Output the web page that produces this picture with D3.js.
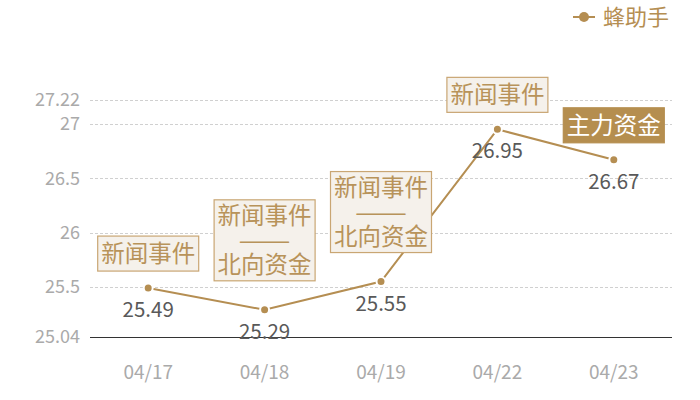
<!DOCTYPE html>
<html>
<head>
<meta charset="utf-8">
<script src="https://cdn.jsdelivr.net/npm/d3@7"></script>
<style>
  body { margin: 0; background: #fff; }
  svg text { font-family: "Noto Sans CJK SC", "Noto Sans", sans-serif; }
</style>
</head>
<body>
<div id="chart"></div>
<script>
// data
const dates = ['04/17', '04/18', '04/19', '04/22', '04/23'];
const prices = [25.49, 25.29, 25.55, 26.95, 26.67];
const yTicks = [25.04, 25.5, 26, 26.5, 27, 27.22];
const notes = [
    ['新闻事件'],
    ['新闻事件', '——', '北向资金'],
    ['新闻事件', '——', '北向资金'],
    ['新闻事件'],
    ['主力资金']
];
const noteFilled = [false, false, false, false, true];
const seriesName = '蜂助手';

const width = 700, height = 400;
const margin = { top: 100, right: 28, bottom: 63, left: 90 };
const gold = '#b58e52';

const svg = d3.select('#chart').append('svg')
    .attr('width', width).attr('height', height);

const x = d3.scaleBand().domain(dates)
    .range([margin.left, width - margin.right]);
const y = d3.scaleLinear().domain([25.04, 27.22])
    .range([height - margin.bottom, margin.top]);

// grid lines
svg.append('g').selectAll('line').data(yTicks.slice(1)).enter().append('line')
    .attr('x1', margin.left).attr('x2', width - margin.right)
    .attr('y1', d => Math.round(y(d)) + 0.5).attr('y2', d => Math.round(y(d)) + 0.5)
    .attr('stroke', '#d0d0d0').attr('stroke-dasharray', '3,2');

// y labels
svg.append('g').selectAll('text').data(yTicks).enter().append('text')
    .attr('x', 80).attr('y', d => y(d)).attr('dy', '0.35em')
    .attr('text-anchor', 'end').attr('font-size', 18).attr('fill', '#aaaaaa')
    .text(d => d);

// x axis line
svg.append('line')
    .attr('x1', margin.left).attr('x2', width - margin.right)
    .attr('y1', Math.round(y(25.04)) + 0.5).attr('y2', Math.round(y(25.04)) + 0.5)
    .attr('stroke', '#333');

// x labels
svg.append('g').selectAll('text').data(dates).enter().append('text')
    .attr('x', d => x(d) + x.bandwidth() / 2).attr('y', 372).attr('dy', '0.35em')
    .attr('text-anchor', 'middle').attr('font-size', 19).attr('fill', '#aaaaaa')
    .text(d => d);

const cx = (d, i) => x(dates[i]) + x.bandwidth() / 2;

// line
const line = d3.line().x((d, i) => cx(d, i)).y(d => y(d));
svg.append('path').datum(prices)
    .attr('d', line).attr('fill', 'none')
    .attr('stroke', gold).attr('stroke-width', 2);

// points
svg.append('g').selectAll('circle').data(prices).enter().append('circle')
    .attr('cx', cx).attr('cy', d => y(d)).attr('r', 4.5)
    .attr('fill', gold).attr('stroke', '#fff').attr('stroke-width', 2);

// value labels
svg.append('g').selectAll('text').data(prices).enter().append('text')
    .attr('x', cx).attr('y', d => y(d) + 29)
    .attr('text-anchor', 'middle').attr('font-size', 20.5).attr('fill', '#595959')
    .text(d => d);

// notes
const lineH = 24.5;
notes.forEach(function (lines, i) {
    const px = cx(prices[i], i), py = y(prices[i]);
    const boxH = lines.length > 1 ? 81 : 35;
    const gap = lines.length > 1 ? 29 : 17;
    const boxW = 101;
    const top = py - gap - boxH;
    const g = svg.append('g');
    g.append('rect')
        .attr('x', px - boxW / 2).attr('y', top)
        .attr('width', boxW).attr('height', boxH)
        .attr('fill', noteFilled[i] ? '#b58e4f' : '#f5f1eb')
        .attr('stroke', noteFilled[i] ? '#b58e4f' : '#c9a673')
        .attr('stroke-width', 1.2);
    const mid = top + boxH / 2;
    const t = g.selectAll('text').data(lines).enter().append('text')
        .attr('x', px)
        .attr('y', (d, k) => mid + (k - (lines.length - 1) / 2) * lineH)
        .attr('dy', '0.36em')
        .attr('text-anchor', 'middle').attr('font-size', 23.5)
        .attr('fill', noteFilled[i] ? '#ffffff' : '#b8935a')
        .text(d => d);
    // stretch the dash row to the width seen in the picture
    t.filter(d => d === '——')
        .attr('textLength', 52).attr('lengthAdjust', 'spacingAndGlyphs');
});

// legend
const lg = svg.append('g');
lg.append('line').attr('x1', 573).attr('x2', 595).attr('y1', 17).attr('y2', 17)
    .attr('stroke', gold).attr('stroke-width', 2);
lg.append('circle').attr('cx', 584).attr('cy', 17).attr('r', 5).attr('fill', gold);
lg.append('text').attr('x', 603).attr('y', 17).attr('dy', '0.36em')
    .attr('font-size', 22).attr('fill', gold).text(seriesName);
</script>
</body>
</html>
